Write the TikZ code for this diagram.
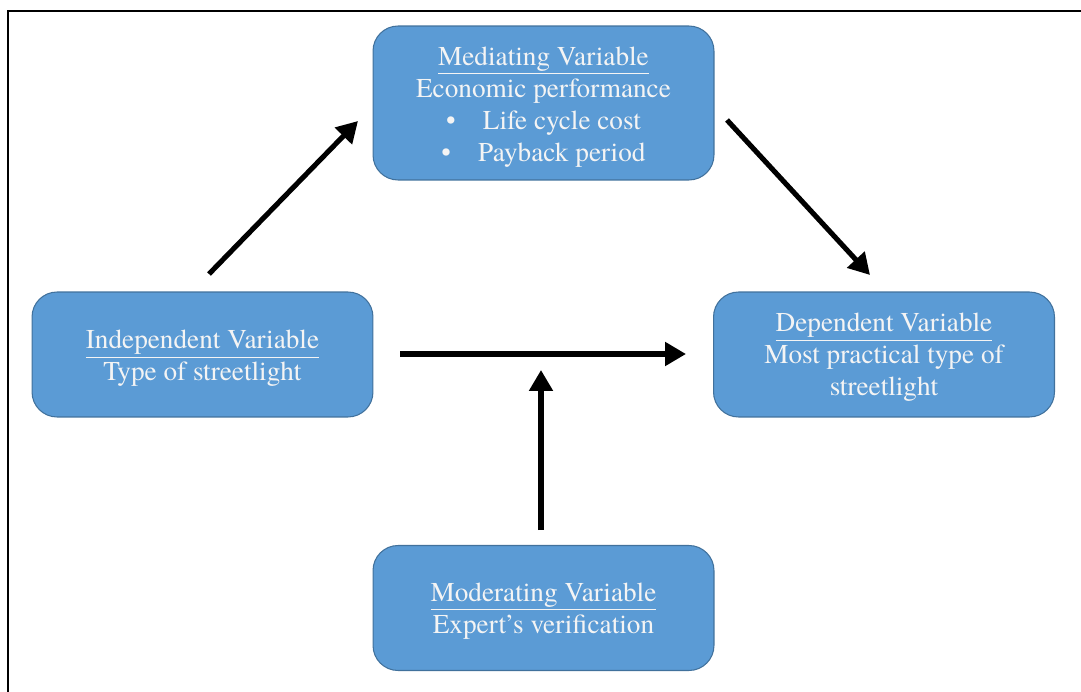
\documentclass[tikz,border=0pt]{standalone}
\usepackage{fontspec}
\setmainfont{texgyretermes}[Extension=.otf, UprightFont=*-regular, BoldFont=*-bold,
  ItalicFont=*-italic, BoldItalicFont=*-bolditalic]
\usetikzlibrary{arrows.meta}
\definecolor{boxblue}{HTML}{5B9BD5}
\definecolor{boxline}{HTML}{41719C}
\definecolor{boxtext}{HTML}{F4F4F4}
\tikzset{
  varbox/.style={draw=boxline, line width=0.6pt, fill=boxblue, rounded corners=0.5cm,
    minimum width=6.82cm, inner sep=0pt},
  vartext/.style={text=boxtext, align=center, inner sep=0pt,
    font=\fontsize{15.5}{18.2}\selectfont},
  flow/.style={line width=2.9pt, -{Triangle[length=0.42cm,width=0.46cm]}}
}

\begin{document}
\begin{tikzpicture}[x=0.02cm, y=-0.02cm]
	\useasboundingbox (0,0) rectangle (1081,692);
	\draw[line width=1.1pt] (8,692) -- (8,11) -- (1081,11);
	\node[varbox, minimum height=3.08cm] (med) at (543.5,103) {};
	\node[vartext] (medtxt) at ([yshift=-0.08cm]med.center)
		{\underline{Mediating Variable}\\Economic performance\\\textbullet\quad Life cycle cost\\\textbullet\quad Payback period};
	\node[varbox, minimum height=2.5cm] (indep) at (202.5,354.5) {};
	\node[vartext] (indeptxt) at ([yshift=-0.08cm]indep.center)
		{\underline{Independent Variable}\\Type of streetlight};
	\node[varbox, minimum height=2.5cm] (dep) at (884,354.5) {};
	\node[vartext] (deptxt) at ([yshift=-0.06cm]dep.center)
		{\underline{Dependent Variable}\\Most practical type of\\streetlight};
	\node[varbox, minimum height=2.5cm] (mod) at (543.5,608) {};
	\node[vartext] (modtxt) at ([yshift=-0.06cm]mod.center)
		{\underline{Moderating Variable}\\Expert’s verification};
	\coordinate (indepout) at (209,274);
	\coordinate (medin) at (358,121);
	\coordinate (medout) at (727,120);
	\coordinate (depin) at (870,275);
	\coordinate (hstart) at (400,354);
	\coordinate (hend) at (686,354);
	\coordinate (modout) at (541,530);
	\coordinate (modin) at (541,370);
	\draw[flow] (indepout) -- (medin);
	\draw[flow] (medout) -- (depin);
	\draw[flow] (hstart) -- (hend);
	\draw[flow] (modout) -- (modin);
\end{tikzpicture}
\end{document}
